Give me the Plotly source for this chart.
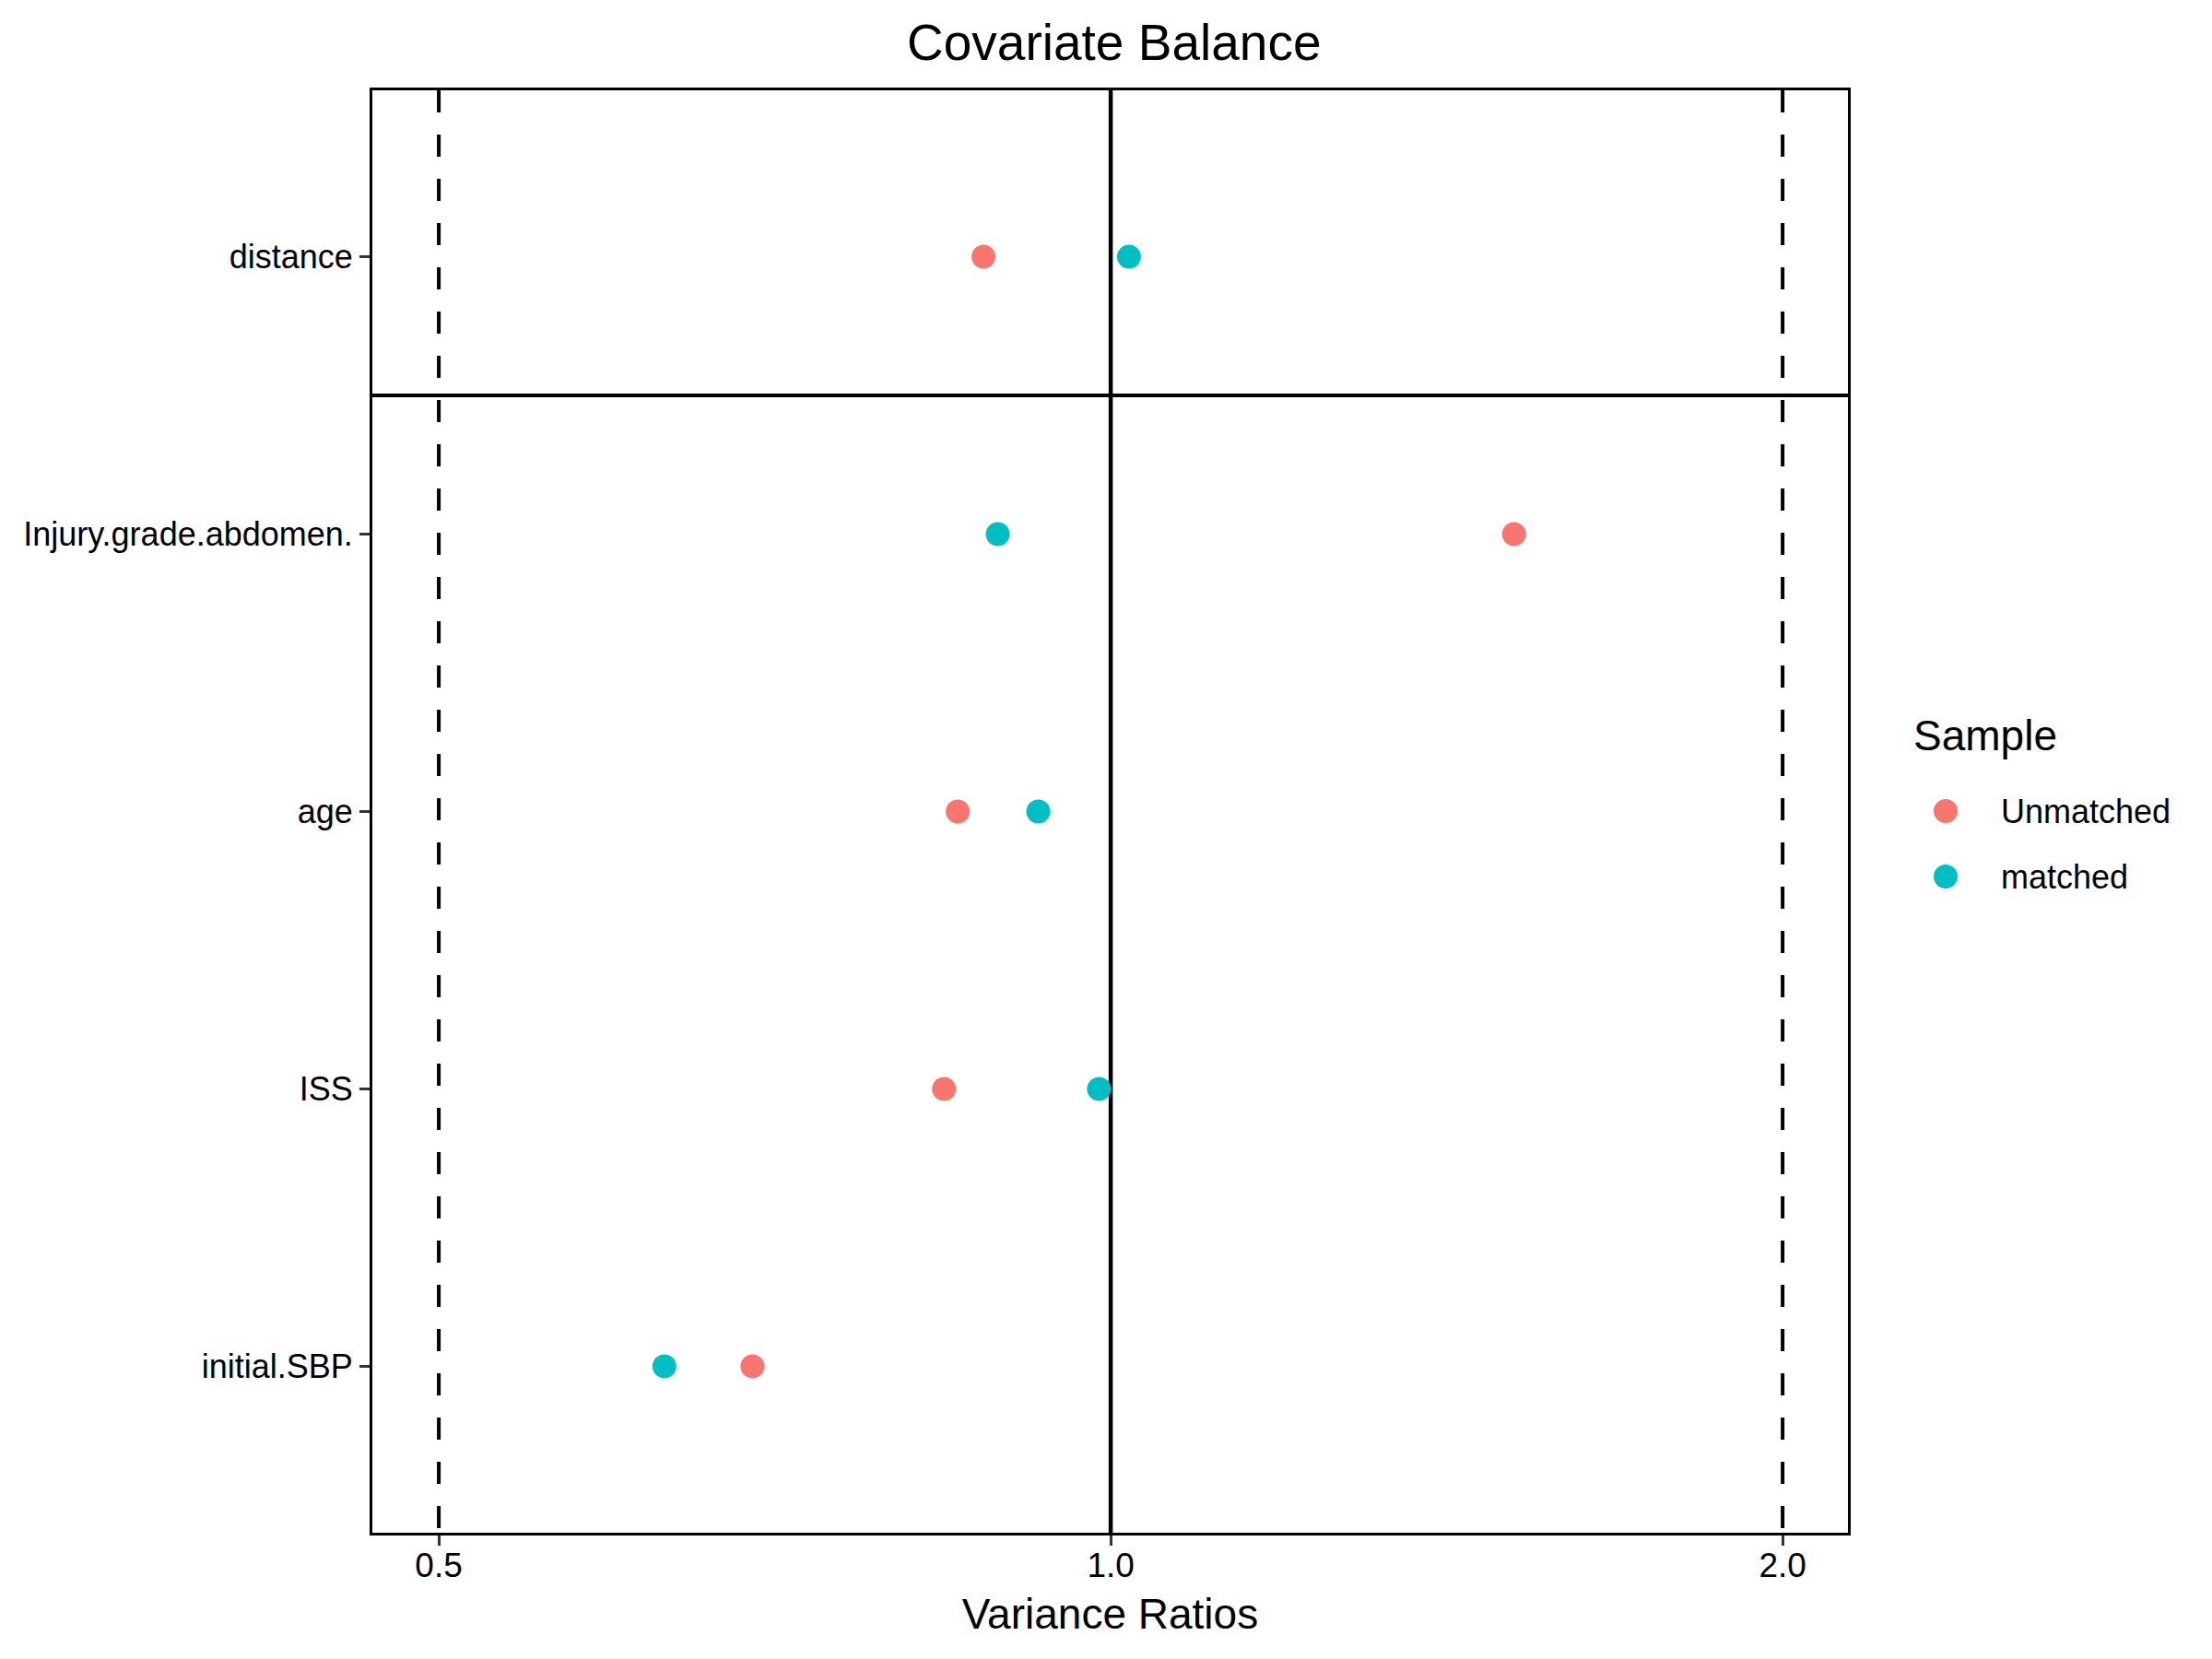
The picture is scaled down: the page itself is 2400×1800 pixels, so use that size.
import plotly.graph_objects as go

# ── Data ──────────────────────────────────────────────────
covariates = ["distance", "Injury.grade.abdomen.", "age", "ISS", "initial.SBP"]
unmatched = [0.877, 1.516, 0.854, 0.842, 0.691]
matched = [1.019, 0.890, 0.928, 0.988, 0.631]
samples = ["Unmatched", "matched"]
ref_lines = [0.5, 1.0, 2.0]
x_ticks = [0.5, 1.0, 2.0]
x_ticktext = ["0.5", "1.0", "2.0"]

FONT = "Liberation Sans, Arial, Helvetica, sans-serif"
COLORS = ["#F8766D", "#00BFC4"]

# page gets an 8px body margin, so the figure is 8px smaller
W, H = 2392, 1792
L, R, T, B = 396, 395, 90, 137
PW, PH = W - L - R, H - T - B


def px_x(x):
    return (x - L) / PW


def px_y(y):
    return (H - B - y) / PH


ypos = list(range(len(covariates)))
y_lo, y_hi = -0.6, len(covariates) - 0.4

fig = go.Figure()

# reference lines (dashed at 0.5 / 2.0, solid at 1.0)
for v in ref_lines:
    solid = v == 1.0
    fig.add_trace(go.Scatter(
        x=[v, v], y=[y_lo, y_hi], mode="lines", showlegend=False, hoverinfo="skip",
        line=dict(color="black", width=4.5 if solid else 4, dash="solid" if solid else "24px,24px"),
    ))

for name, vals, col in zip(samples, [unmatched, matched], COLORS):
    fig.add_trace(go.Scatter(
        x=vals, y=ypos, mode="markers", name=name, showlegend=False,
        marker=dict(color=col, size=26),
    ))

# separator under the distance row
fig.add_shape(type="line", xref="paper", x0=0, x1=1, yref="y", y0=0.5, y1=0.5,
              line=dict(color="black", width=4))

# ── Legend (drawn by hand so the keys can be full size) ──
fig.add_annotation(text="Sample", xref="paper", yref="paper", x=px_x(2066), y=px_y(790),
                   xanchor="left", yanchor="middle", showarrow=False, font=dict(size=46))
for i, (name, col) in enumerate(zip(samples, COLORS)):
    ky = 872 + i * 71
    fig.add_shape(type="circle", xref="paper", yref="paper",
                  xsizemode="pixel", ysizemode="pixel",
                  xanchor=px_x(2103), yanchor=px_y(ky), x0=-13, x1=13, y0=-13, y1=13,
                  fillcolor=col, line=dict(width=0))
    fig.add_annotation(text=name, xref="paper", yref="paper", x=px_x(2161), y=px_y(ky),
                       xanchor="left", yanchor="middle", showarrow=False, font=dict(size=36))

fig.update_layout(
    width=W, height=H,
    margin=dict(l=L, r=R, t=T, b=B),
    paper_bgcolor="white", plot_bgcolor="white",
    font=dict(family=FONT, color="black"),
    title=dict(text="Covariate Balance", x=0.502, xanchor="center", y=0.979, yanchor="middle",
               font=dict(size=55, color="black")),
    showlegend=False,
)

fig.update_xaxes(
    type="log", range=[-0.3308, 0.3303],
    tickvals=x_ticks, ticktext=x_ticktext,
    showgrid=False, zeroline=False,
    showline=True, mirror=True, linecolor="black", linewidth=3,
    ticks="outside", ticklen=11, tickwidth=3, tickcolor="#333333",
    tickfont=dict(size=37, color="black"), ticklabelstandoff=-10,
    title=dict(text="Variance Ratios", font=dict(size=46), standoff=17),
)
fig.update_yaxes(
    range=[y_hi, y_lo],
    tickvals=ypos, ticktext=covariates,
    showgrid=False, zeroline=False,
    showline=True, mirror=True, linecolor="black", linewidth=3,
    ticks="outside", ticklen=11, tickwidth=3, tickcolor="#333333",
    tickfont=dict(size=36, color="black"),
)

fig.write_html("out.html")
